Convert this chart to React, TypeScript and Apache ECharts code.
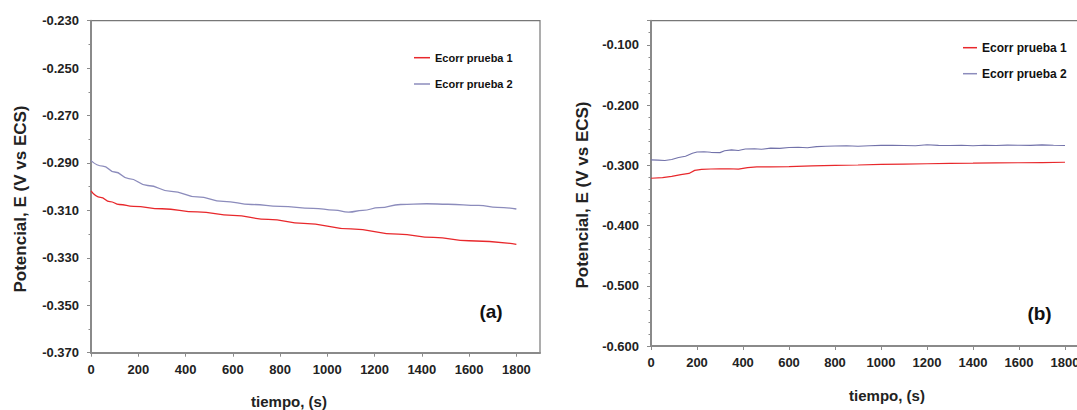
import React, { useEffect, useRef } from "react";
import * as echarts from "echarts";

// ---- Data ----
const seriesNames = ["Ecorr prueba 1", "Ecorr prueba 2"];

// Panel (a)
const timeA1 = [0, 40, 80, 120, 180, 300, 450, 600, 750, 900, 1100, 1300, 1450, 1600, 1800];
const valA1 = [-0.3018, -0.3045, -0.3063, -0.3075, -0.3083, -0.3093, -0.3106, -0.3121, -0.3138, -0.3155, -0.3178, -0.32, -0.3214, -0.3228, -0.3243];
const timeA2 = [0, 50, 100, 160, 240, 340, 450, 560, 680, 800, 940, 1030, 1090, 1150, 1220, 1310, 1420, 1510, 1640, 1720, 1800];
const valA2 = [-0.289, -0.2913, -0.2938, -0.2966, -0.2995, -0.302, -0.3043, -0.3062, -0.3075, -0.3083, -0.3091, -0.3099, -0.3107, -0.31, -0.3088, -0.3075, -0.3072, -0.3074, -0.3079, -0.3087, -0.3094];

// Panel (b)
const timeB1 = [0, 50, 90, 130, 165, 190, 220, 260, 300, 340, 380, 420, 460, 520, 600, 700, 800, 900, 1000, 1100, 1200, 1300, 1400, 1500, 1600, 1700, 1800];
const valB1 = [-0.3215, -0.3205, -0.3185, -0.3155, -0.3135, -0.3085, -0.3068, -0.3062, -0.306, -0.3058, -0.3065, -0.304, -0.3028, -0.3025, -0.3022, -0.301, -0.3, -0.2995, -0.2985, -0.298, -0.2975, -0.2968, -0.2965, -0.296, -0.2958, -0.2955, -0.295];
const timeB2 = [0, 30, 60, 90, 120, 150, 180, 200, 230, 260, 300, 320, 350, 380, 410, 450, 480, 520, 560, 600, 640, 680, 720, 760, 800, 850, 900, 950, 1000, 1050, 1100, 1150, 1200, 1250, 1300, 1350, 1400, 1450, 1500, 1550, 1600, 1650, 1700, 1750, 1800];
const valB2 = [-0.291, -0.2915, -0.292, -0.2905, -0.287, -0.285, -0.28, -0.278, -0.2775, -0.2785, -0.279, -0.276, -0.2745, -0.2755, -0.273, -0.2725, -0.2735, -0.2715, -0.272, -0.2705, -0.27, -0.271, -0.269, -0.2685, -0.268, -0.2675, -0.2685, -0.2675, -0.267, -0.2668, -0.2672, -0.2675, -0.266, -0.267, -0.2672, -0.2668, -0.2675, -0.2668, -0.2672, -0.2666, -0.2668, -0.267, -0.2662, -0.2668, -0.2672];

const xTicks = { min: 0, max: 1900, interval: 200 };
const yTicksA = { min: -0.37, max: -0.23, interval: 0.02 };
const yTicksB = { min: -0.6, max: -0.06, interval: 0.1, minor: 0.02 };

const panelLabels = ["(a)", "(b)"];
const xName = "tiempo, (s)";
const yName = "Potencial, E (V vs ECS)";

const pair = (t: number[], v: number[]) => t.map((x, i) => [x, v[i]]);

const FONT = "'Liberation Sans', Arial, sans-serif";
const RED = "#e8282c";
const BLUE_A = "#8c8cbc";
const BLUE_B = "#7272aa";
const AXIS = "#8a8a8a";

export default function App() {
  const ref = useRef<HTMLDivElement>(null);
  useEffect(() => {
    if (!ref.current) return;
    const chart = echarts.init(ref.current, undefined, { renderer: "svg" });

    const axisCommon = {
      axisLine: { show: true, onZero: false, lineStyle: { color: AXIS, width: 2 } },
      axisTick: { show: true, length: 4, lineStyle: { color: AXIS, width: 1 } },
      splitLine: { show: false },
    };
    const labelStyle = { fontFamily: FONT, fontWeight: "bold" as const, fontSize: 13, color: "#222" };
    const xFmt = (v: number) => (v > 1850 ? "" : String(v));

    const option: any = {
      animation: false,
      backgroundColor: "#fff",
      grid: [
        { left: 91, top: 20.7, width: 449, height: 332, show: true, borderColor: "#777", borderWidth: 1.2 },
        { left: 651, top: 20.7, width: 437, height: 325.3, show: true, borderColor: "#777", borderWidth: 1.2 },
      ],
      xAxis: [
        { type: "value", gridIndex: 0, ...xTicks, ...axisCommon, axisLabel: { ...labelStyle, margin: 10, showMaxLabel: false, formatter: xFmt } },
        { type: "value", gridIndex: 1, ...xTicks, ...axisCommon, axisLabel: { ...labelStyle, margin: 10, showMaxLabel: false, formatter: xFmt } },
      ],
      yAxis: [
        {
          type: "value", gridIndex: 0, position: "left", ...yTicksA, ...axisCommon,
          minorTick: { show: true, splitNumber: 2, length: 2.5, lineStyle: { color: AXIS } },
          axisLabel: { ...labelStyle, margin: 12, formatter: (v: number) => v.toFixed(3) },
        },
        {
          type: "value", gridIndex: 1, position: "left", min: yTicksB.min, max: yTicksB.max, interval: yTicksB.interval, ...axisCommon,
          axisLabel: { ...labelStyle, margin: 12, formatter: (v: number) => (v > -0.07 ? "" : v.toFixed(3)) },
        },
        {
          type: "value", gridIndex: 1, position: "left", min: yTicksB.min, max: yTicksB.max, interval: yTicksB.minor,
          axisLine: { show: false }, splitLine: { show: false }, axisLabel: { show: false },
          axisTick: { show: true, length: 2.5, lineStyle: { color: AXIS, width: 1 } },
        },
      ],
      legend: [
        {
          data: seriesNames, orient: "vertical", left: 409, top: 45.7, itemWidth: 16, itemHeight: 1.5, itemGap: 12.3,
          icon: "rect", textStyle: { fontFamily: FONT, fontWeight: "bold", fontSize: 11, color: "#111", lineHeight: 14 },
        },
        {
          data: seriesNames, orient: "vertical", left: 958, top: 35.7, itemWidth: 14, itemHeight: 1.5, itemGap: 12,
          icon: "rect", textStyle: { fontFamily: FONT, fontWeight: "bold", fontSize: 12, color: "#111", lineHeight: 14 },
        },
      ],
      series: [
        {
          type: "line", name: seriesNames[0], xAxisIndex: 0, yAxisIndex: 0, data: pair(timeA1, valA1),
          showSymbol: false, smooth: 0.5, smoothMonotone: "x",
          itemStyle: { color: RED }, lineStyle: { color: RED, width: 1.3 },
        },
        {
          type: "line", name: seriesNames[1], xAxisIndex: 0, yAxisIndex: 0, data: pair(timeA2, valA2),
          showSymbol: false, smooth: 0.5, smoothMonotone: "x",
          itemStyle: { color: BLUE_A }, lineStyle: { color: BLUE_A, width: 1.3 },
        },
        {
          type: "line", name: seriesNames[0], xAxisIndex: 1, yAxisIndex: 1, data: pair(timeB1, valB1),
          showSymbol: false, itemStyle: { color: RED }, lineStyle: { color: RED, width: 1.2 },
        },
        {
          type: "line", name: seriesNames[1], xAxisIndex: 1, yAxisIndex: 1, data: pair(timeB2, valB2),
          showSymbol: false, itemStyle: { color: BLUE_B }, lineStyle: { color: BLUE_B, width: 1.1 },
        },
      ],
      graphic: [
        { type: "text", x: 289, y: 401, style: { text: xName, font: `bold 15px ${FONT}`, fill: "#222", textAlign: "center", textVerticalAlign: "middle" } },
        { type: "text", x: 887, y: 395, style: { text: xName, font: `bold 15px ${FONT}`, fill: "#222", textAlign: "center", textVerticalAlign: "middle" } },
        { type: "text", x: 20, y: 199, rotation: Math.PI / 2, style: { text: yName, font: `bold 17px ${FONT}`, fill: "#222", textAlign: "center", textVerticalAlign: "middle" } },
        { type: "text", x: 582, y: 195, rotation: Math.PI / 2, style: { text: yName, font: `bold 17px ${FONT}`, fill: "#222", textAlign: "center", textVerticalAlign: "middle" } },
        { type: "text", x: 491, y: 311.7, style: { text: panelLabels[0], font: `bold 19px ${FONT}`, fill: "#111", textAlign: "center", textVerticalAlign: "middle" } },
        { type: "text", x: 1039.5, y: 313, style: { text: panelLabels[1], font: `bold 19px ${FONT}`, fill: "#111", textAlign: "center", textVerticalAlign: "middle" } },
      ],
    };
    chart.setOption(option);
    return () => chart.dispose();
  }, []);

  return (
    <div style={{ position: "absolute", left: 0, top: 0, width: 1077, height: 410, overflow: "hidden" }}>
      <div ref={ref} style={{ width: 1100, height: 410 }} />
    </div>
  );
}
